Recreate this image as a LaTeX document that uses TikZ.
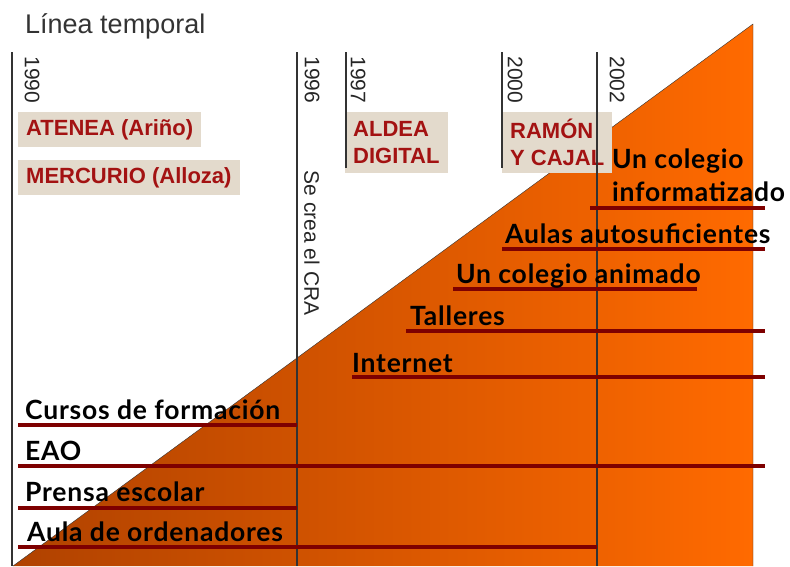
\documentclass[tikz,border=0pt]{standalone}
\usepackage{fontspec}
\setmainfont{Liberation Sans}
\newfontfamily\comicfont[LetterSpace=3]{Lato}
\usetikzlibrary{positioning}
\definecolor{barred}{HTML}{7E0000}
\definecolor{boxbeige}{HTML}{E3DACC}
\definecolor{boxtext}{HTML}{A31212}
\definecolor{darkorange}{HTML}{B04200}
\definecolor{brightorange}{HTML}{FF6A00}

\begin{document}
\begin{tikzpicture}[x=1pt, y=-1pt,
	bar/.style={line width=4pt, barred},
	yearline/.style={line width=1.3pt, black!80},
	yearlabel/.style={rotate=-90, font=\fontsize{21}{24}\selectfont, text=black!85, inner sep=0pt},
	eventbox/.style={anchor=north west, fill=boxbeige, text=boxtext, font=\bfseries\fontsize{22}{27}\selectfont, inner xsep=8pt, align=left},
	eventlabel/.style={anchor=base west, inner sep=0pt, font=\comicfont\bfseries\fontsize{26.5}{32}\selectfont}]
	\useasboundingbox (0,0) rectangle (790,566);

	%title
	\node[anchor=base west, inner sep=0pt, font=\fontsize{27}{30}\selectfont, text=black!80] (title) at (25,33) {Línea temporal};

	%triangle
	\shade[left color=darkorange, right color=brightorange] (13,566) -- (753,24) -- (753,566) -- cycle;
	\draw[thin, black!80] (13,566) -- (753,24) -- (753,566);

	%boxes
	\node[eventbox, minimum height=35pt] (atenea) at (18,112) {ATENEA (Ariño)};
	\node[eventbox, minimum height=35pt] (mercurio) at (18,160) {MERCURIO (Alloza)};
	\node[eventbox, minimum height=61pt] (aldea) at (345,112) {ALDEA\\DIGITAL};
	\node[eventbox, minimum height=61pt] (ramon) at (502,112) {RAMÓN\\Y CAJAL};

	%year lines
	\foreach \x/\yend in {12/566, 297/566, 346/168, 502/168, 597/566}{
		\draw[yearline] (\x,52) -- (\x,\yend);
	}
	\node[yearlabel] (y1990) at (32,80) {1990};
	\node[yearlabel] (y1996) at (312,80) {1996};
	\node[yearlabel] (y1997) at (358,80) {1997};
	\node[yearlabel] (y2000) at (515,80) {2000};
	\node[yearlabel] (y2002) at (617,80) {2002};
	\node[yearlabel] (cra) at (312,243) {Se crea el CRA};

	%bars
	\foreach \xa/\xb/\y in {590/765/208, 502/765/249, 453/697/289, 406/765/331, 352/765/377,
		18/297/425, 18/765/466, 18/297/508, 18/597/547}{
		\draw[bar] (\xa,\y) -- (\xb,\y);
	}

	%events
	\node[eventlabel] (informatizado) at (612,201) {informatizado};
	\node[eventlabel] (uncolegio) at (612,168) {Un colegio};
	\node[eventlabel] (autosuf) at (505,243) {Aulas autosuficientes};
	\node[eventlabel] (animado) at (456,283) {Un colegio animado};
	\node[eventlabel] (talleres) at (410,325) {Talleres};
	\node[eventlabel] (internet) at (352,372) {Internet};
	\node[eventlabel] (cursos) at (25,419) {Cursos de formación};
	\node[eventlabel] (eao) at (25,460) {EAO};
	\node[eventlabel] (prensa) at (25,501) {Prensa escolar};
	\node[eventlabel] (aula) at (27,541) {Aula de ordenadores};

\end{tikzpicture}
\end{document}
